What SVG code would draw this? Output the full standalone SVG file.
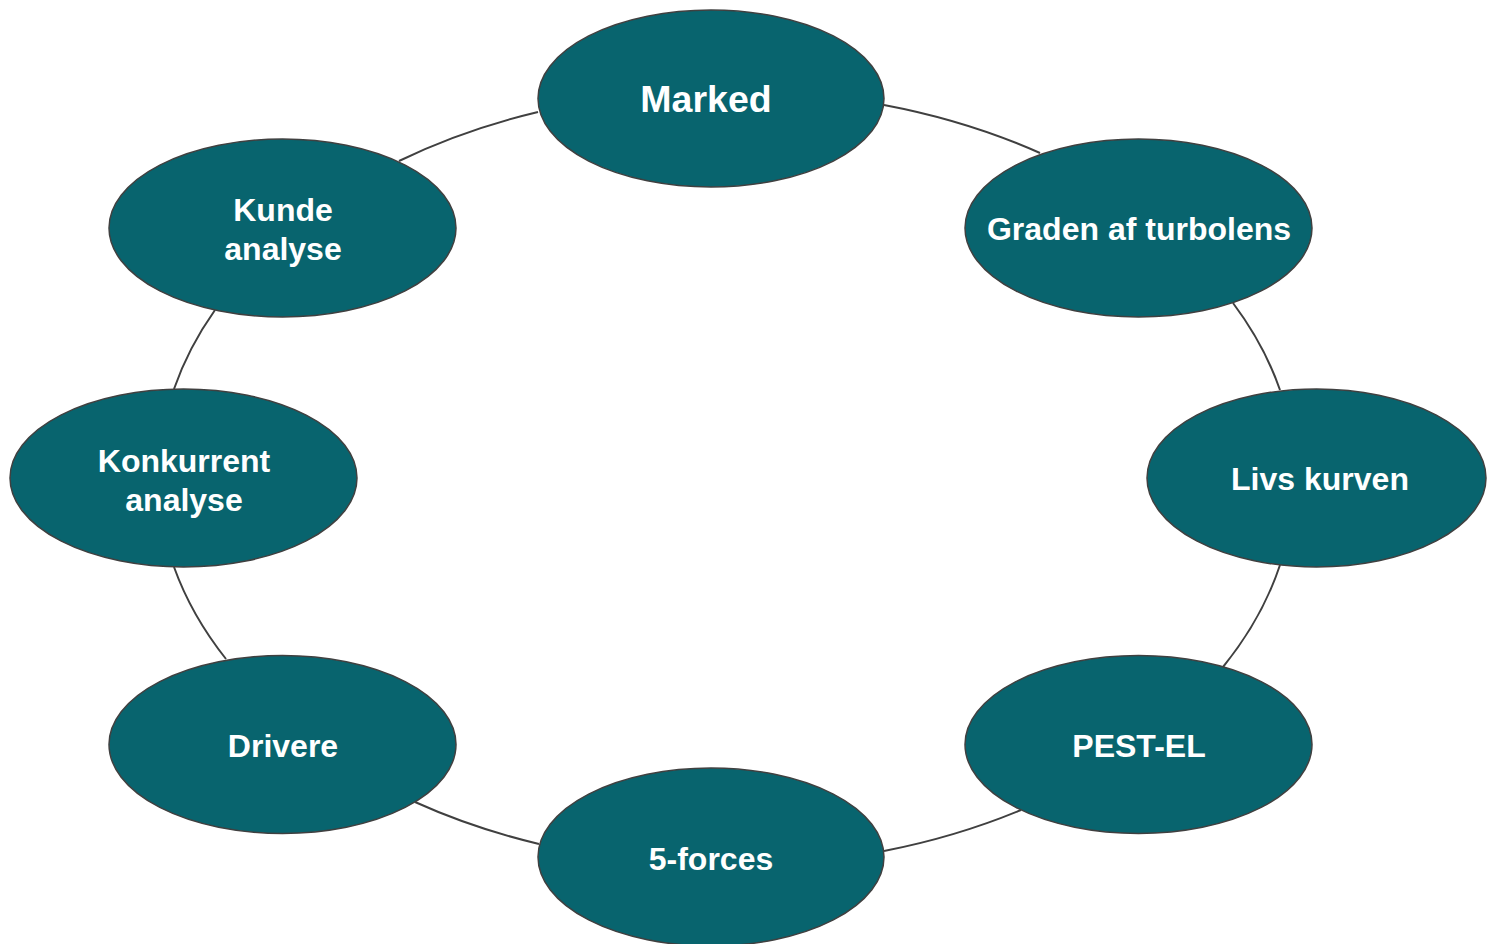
<svg xmlns="http://www.w3.org/2000/svg" width="1487" height="944" viewBox="0 0 1487 944">
  <style>
    .node { fill: #08646E; stroke: #404040; stroke-width: 1.5; }
    .link { fill: none; stroke: #404040; stroke-width: 2; }
    .label { fill: #ffffff; font-family: "Liberation Sans", Arial, sans-serif; font-weight: bold; font-size: 32px; text-anchor: middle; }
    .title { font-size: 37.5px; }
  </style>
  <rect width="1487" height="944" fill="#ffffff"/>

  <!-- cycle connectors -->
  <g id="connectors">
    <path class="link" d="M884,105 A560,385 0 0 1 1040,153"/>
    <path class="link" d="M1233,303 A560,385 0 0 1 1280,390"/>
    <path class="link" d="M1280,565 A560,385 0 0 1 1223,667"/>
    <path class="link" d="M1021,810 A560,385 0 0 1 884,851"/>
    <path class="link" d="M539,844 A560,385 0 0 1 415,802"/>
    <path class="link" d="M226,659 A560,385 0 0 1 174,567"/>
    <path class="link" d="M174,389 A560,385 0 0 1 215,310"/>
    <path class="link" d="M399,161 A560,385 0 0 1 538,112"/>
  </g>

  <g id="marked">
    <ellipse class="node" cx="711" cy="98.5" rx="173" ry="88.5"/>
    <text class="label title" x="706" y="112">Marked</text>
  </g>
  <g id="graden">
    <ellipse class="node" cx="1138.5" cy="228" rx="173.5" ry="89"/>
    <text class="label" x="1139" y="240">Graden af turbolens</text>
  </g>
  <g id="livs-kurven">
    <ellipse class="node" cx="1316.5" cy="478" rx="169.5" ry="89"/>
    <text class="label" x="1320" y="490">Livs kurven</text>
  </g>
  <g id="pest-el">
    <ellipse class="node" cx="1138.5" cy="744.5" rx="173.5" ry="89"/>
    <text class="label" x="1139" y="757">PEST-EL</text>
  </g>
  <g id="five-forces">
    <ellipse class="node" cx="711" cy="857" rx="173" ry="89"/>
    <text class="label" x="711" y="870">5-forces</text>
  </g>
  <g id="drivere">
    <ellipse class="node" cx="282.5" cy="744.5" rx="173.5" ry="89"/>
    <text class="label" x="283" y="757">Drivere</text>
  </g>
  <g id="konkurrent">
    <ellipse class="node" cx="183.5" cy="478" rx="173.5" ry="89"/>
    <text class="label" x="184" y="472">Konkurrent</text>
    <text class="label" x="184" y="511">analyse</text>
  </g>
  <g id="kunde">
    <ellipse class="node" cx="282.5" cy="228" rx="173.5" ry="89"/>
    <text class="label" x="283" y="221">Kunde</text>
    <text class="label" x="283" y="260">analyse</text>
  </g>
</svg>
